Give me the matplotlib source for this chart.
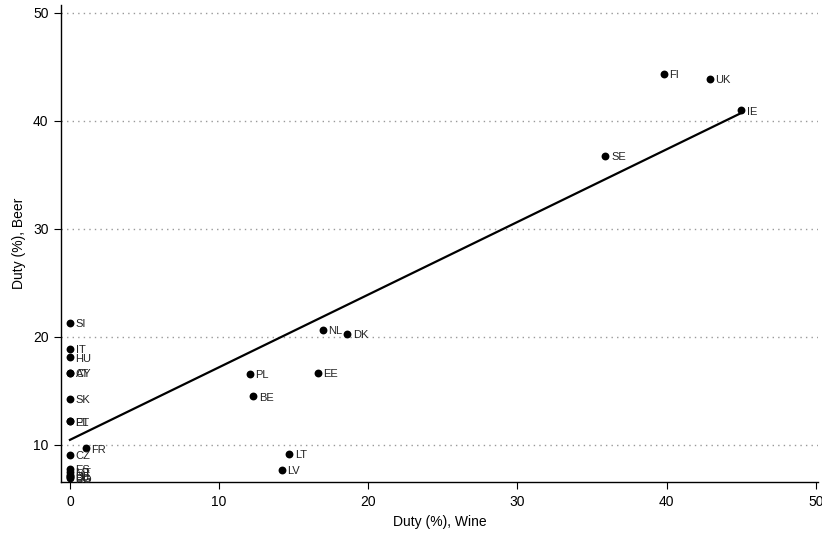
import matplotlib
matplotlib.use("Agg")
import matplotlib.pyplot as plt
import numpy as np

plt.rcParams['font.family'] = ['Liberation Sans', 'DejaVu Sans']

# Country codes with excise duty (%) on wine and beer
countries = ['SI', 'IT', 'HU', 'AT', 'CY', 'SK', 'PT', 'EL', 'CZ', 'FR',
             'ES', 'MT', 'DE', 'LU', 'BG', 'RO',
             'NL', 'DK', 'PL', 'EE', 'BE', 'LT', 'LV', 'SE', 'FI', 'UK', 'IE']
wine = [0.0, 0.0, 0.0, 0.0, 0.0, 0.0, 0.0, 0.0, 0.0, 1.07,
        0.0, 0.0, 0.0, 0.0, 0.0, 0.0,
        16.96, 18.6, 12.06, 16.6, 12.3, 14.7, 14.2, 35.9, 39.8, 42.9, 45.0]
beer = [21.3, 18.9, 18.1, 16.7, 16.7, 14.3, 12.2, 12.2, 9.1, 9.7,
        7.8, 7.5, 7.2, 7.1, 7.0, 6.9,
        20.65, 20.3, 16.6, 16.7, 14.5, 9.2, 7.7, 36.8, 44.35, 43.9, 41.0]

x = np.array(wine)
y = np.array(beer)
slope, intercept = np.polyfit(x, y, 1)

fig = plt.figure(figsize=(8.22, 5.35), dpi=100)
ax = fig.add_axes([61 / 822, 53 / 535, 757 / 822, 477 / 535])

ax.set_xlim(-0.6, 50.15)
ax.set_ylim(6.57, 50.74)

# horizontal dotted grid
for gy in [10, 20, 30, 40, 50]:
    ax.axhline(gy, color='#999999', linestyle=(0, (1, 3)), lw=1, zorder=0)

ax.scatter(x, y, s=32, color='black', zorder=3, linewidths=0)
for c, xi, yi in zip(countries, x, y):
    ax.annotate(c, (xi, yi), xytext=(4, -1), textcoords='offset points',
                va='center', ha='left', fontsize=8, color='#222222')

xs = np.array([x.min(), x.max()])
ax.plot(xs, intercept + slope * xs, color='black', lw=1.6, zorder=2)

ax.set_xticks([0, 10, 20, 30, 40, 50])
ax.set_yticks([10, 20, 30, 40, 50])
ax.tick_params(direction='out', length=5, width=0.8, labelsize=10, pad=4)
for s in ['top', 'right']:
    ax.spines[s].set_visible(False)
for s in ['left', 'bottom']:
    ax.spines[s].set_linewidth(1)

ax.set_xlabel('Duty (%), Wine', fontsize=10, labelpad=5)
ax.set_ylabel('Duty (%), Beer', fontsize=10, labelpad=5)

fig.savefig('out.png', dpi=100)
